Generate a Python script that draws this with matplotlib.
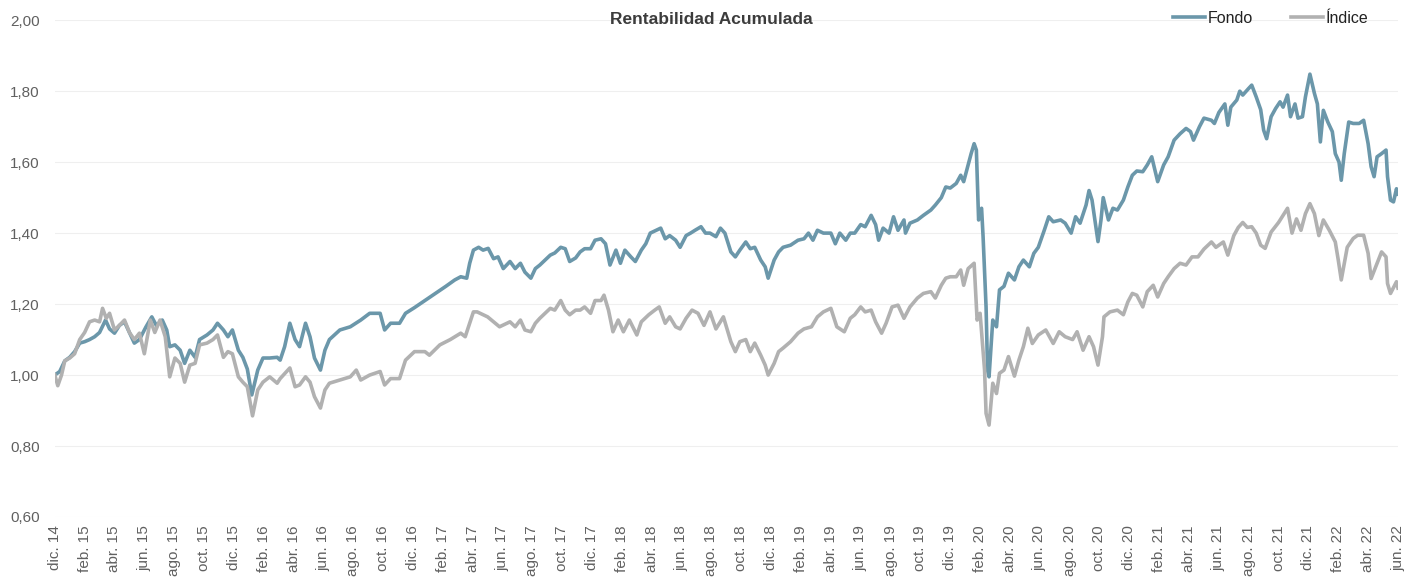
import matplotlib.pyplot as plt

# meses desde dic. 14 (0 = dic. 14, 90 = jun. 22)
fondo_mes = [0.0, 0.33, 0.67, 1.0, 1.33, 1.67, 2.0, 2.33, 2.67, 3.0, 3.4, 3.67, 4.0, 4.33, 4.67,
             5.0, 5.33, 5.67, 6.1, 6.5, 6.8, 7.2, 7.5, 7.7, 8.05, 8.4, 8.7, 9.05, 9.4, 9.7,
             10.2, 10.6, 10.9, 11.3, 11.6, 11.9, 12.3, 12.6, 12.9, 13.2, 13.6, 13.95, 14.4, 14.9,
             15.1, 15.4, 15.75, 16.1, 16.4, 16.8, 17.1, 17.4, 17.8, 18.1, 18.4, 19.1, 19.8, 20.5,
             21.1, 21.8, 22.1, 22.5, 23.1, 23.5, 24.1, 24.8, 25.5, 26.2, 26.8, 27.2, 27.6, 27.8,
             28.05, 28.4, 28.7, 29.04, 29.4, 29.7, 30.05, 30.5, 30.85, 31.2, 31.5, 31.9, 32.2,
             32.5, 32.85, 33.2, 33.5, 33.9, 34.2, 34.5, 34.9, 35.2, 35.5, 35.9, 36.2, 36.6, 36.9,
             37.2, 37.6, 37.9, 38.2, 38.6, 38.9, 39.3, 39.6, 39.9, 40.3, 40.6, 40.9, 41.2, 41.6,
             41.9, 42.3, 42.6, 42.9, 43.3, 43.6, 43.9, 44.3, 44.6, 44.9, 45.3, 45.6, 45.9, 46.3,
             46.6, 46.9, 47.3, 47.6, 47.8, 48.2, 48.5, 48.8, 49.3, 49.8, 50.2, 50.5, 50.8, 51.1,
             51.5, 52.0, 52.3, 52.6, 53.0, 53.3, 53.6, 54.0, 54.3, 54.7, 55.0, 55.2, 55.5, 55.9,
             56.2, 56.5, 56.9, 57.0, 57.3, 57.8, 58.2, 58.7, 59.0, 59.4, 59.7, 60.0, 60.4, 60.7,
             60.9, 61.2, 61.4, 61.6, 61.75, 61.9, 62.1, 62.2, 62.4, 62.5, 62.6, 62.85, 63.1, 63.3,
             63.6, 63.9, 64.3, 64.6, 64.9, 65.3, 65.6, 65.9, 66.3, 66.6, 66.9, 67.4, 67.7, 68.1,
             68.4, 68.7, 69.1, 69.3, 69.5, 69.9, 70.1, 70.25, 70.6, 70.9, 71.2, 71.6, 71.9, 72.2,
             72.5, 72.9, 73.2, 73.5, 73.9, 74.3, 74.6, 75.0, 75.4, 75.8, 76.1, 76.3, 76.7, 77.0,
             77.5, 77.7, 78.0, 78.4, 78.6, 78.8, 79.2, 79.4, 79.6, 80.0, 80.2, 80.5, 80.8, 81.0,
             81.2, 81.5, 81.8, 82.1, 82.3, 82.6, 82.8, 83.1, 83.3, 83.6, 83.8, 84.1, 84.4, 84.6,
             84.8, 85.0, 85.3, 85.6, 85.8, 86.05, 86.2, 86.4, 86.7, 87.0, 87.4, 87.7, 88.0, 88.2,
             88.4, 88.6, 88.9, 89.2, 89.3, 89.5, 89.7, 89.9, 90.0]
fondo = [1.00, 1.01, 1.04, 1.05, 1.066, 1.09, 1.094, 1.10, 1.108, 1.12, 1.155, 1.13, 1.118, 1.14, 1.15,
         1.12, 1.09, 1.10, 1.135, 1.164, 1.14, 1.155, 1.127, 1.08, 1.085, 1.07, 1.033, 1.07, 1.05, 1.10,
         1.113, 1.127, 1.146, 1.127, 1.108, 1.127, 1.07, 1.05, 1.017, 0.944, 1.014, 1.048, 1.048, 1.05,
         1.042, 1.08, 1.146, 1.10, 1.08, 1.146, 1.108, 1.048, 1.014, 1.07, 1.10, 1.127, 1.136, 1.155,
         1.174, 1.174, 1.127, 1.146, 1.146, 1.174, 1.19, 1.21, 1.23, 1.25, 1.268, 1.277, 1.273, 1.315,
         1.352, 1.36, 1.352, 1.357, 1.328, 1.333, 1.30, 1.32, 1.30, 1.315, 1.29, 1.273, 1.30,
         1.31, 1.324, 1.338, 1.344, 1.36, 1.356, 1.32, 1.33, 1.347, 1.356, 1.356, 1.38, 1.384, 1.37,
         1.31, 1.352, 1.315, 1.352, 1.333, 1.32, 1.352, 1.37, 1.40, 1.408, 1.414, 1.384, 1.393, 1.38,
         1.36, 1.393, 1.40, 1.408, 1.418, 1.40, 1.40, 1.39, 1.414, 1.40, 1.347, 1.333, 1.352, 1.375,
         1.356, 1.36, 1.324, 1.305, 1.273, 1.324, 1.347, 1.36, 1.366, 1.38, 1.384, 1.40, 1.38, 1.408,
         1.40, 1.40, 1.37, 1.40, 1.38, 1.40, 1.40, 1.424, 1.418, 1.45, 1.424, 1.38, 1.414, 1.40,
         1.446, 1.408, 1.437, 1.40, 1.428, 1.437, 1.45, 1.465, 1.479, 1.50, 1.53, 1.527, 1.54, 1.563,
         1.545, 1.592, 1.624, 1.652, 1.634, 1.437, 1.47, 1.39, 1.192, 1.014, 0.995, 1.155, 1.136, 1.24,
         1.25, 1.287, 1.268, 1.305, 1.324, 1.305, 1.343, 1.36, 1.408, 1.446, 1.432, 1.437, 1.428, 1.40,
         1.446, 1.428, 1.479, 1.52, 1.493, 1.376, 1.437, 1.50, 1.437, 1.47, 1.465, 1.493, 1.53, 1.563,
         1.575, 1.573, 1.592, 1.615, 1.545, 1.592, 1.615, 1.662, 1.68, 1.695, 1.686, 1.662, 1.70, 1.724,
         1.718, 1.709, 1.74, 1.764, 1.704, 1.755, 1.775, 1.80, 1.789, 1.808, 1.817, 1.784, 1.748, 1.69,
         1.666, 1.728, 1.751, 1.77, 1.755, 1.789, 1.728, 1.764, 1.724, 1.728, 1.784, 1.848, 1.794, 1.764,
         1.657, 1.746, 1.713, 1.686, 1.624, 1.60, 1.549, 1.624, 1.713, 1.709, 1.709, 1.718, 1.652, 1.587,
         1.559, 1.615, 1.624, 1.634, 1.559, 1.493, 1.488, 1.525, 1.51]

indice_mes = [0.0, 0.2, 0.45, 0.67, 1.0, 1.33, 1.67, 2.0, 2.33, 2.67, 3.0, 3.2, 3.45, 3.67, 4.0,
              4.33, 4.67, 5.0, 5.33, 5.67, 6.0, 6.4, 6.7, 7.05, 7.4, 7.7, 8.05, 8.4, 8.7, 9.05,
              9.4, 9.7, 10.2, 10.6, 10.9, 11.3, 11.6, 11.9, 12.3, 12.6, 12.9, 13.25, 13.6, 13.95,
              14.4, 14.9, 15.1, 15.75, 16.1, 16.4, 16.8, 17.1, 17.4, 17.8, 18.1, 18.4, 19.1, 19.8,
              20.2, 20.5, 21.1, 21.8, 22.1, 22.5, 23.1, 23.5, 24.1, 24.8, 25.1, 25.8, 26.5, 27.2,
              27.5, 28.05, 28.3, 29.0, 29.8, 30.5, 30.85, 31.2, 31.5, 31.9, 32.2, 32.5, 32.85, 33.2,
              33.5, 33.9, 34.2, 34.5, 34.9, 35.2, 35.5, 35.9, 36.2, 36.6, 36.8, 37.1, 37.4, 37.75,
              38.1, 38.5, 39.0, 39.3, 39.8, 40.2, 40.5, 40.9, 41.2, 41.6, 41.9, 42.3, 42.7, 43.1,
              43.5, 43.9, 44.3, 44.8, 45.3, 45.6, 45.9, 46.3, 46.6, 46.9, 47.3, 47.6, 47.8, 48.2,
              48.5, 48.8, 49.3, 49.8, 50.2, 50.7, 51.1, 51.5, 52.0, 52.4, 52.9, 53.3, 53.6, 54.0,
              54.3, 54.7, 55.0, 55.4, 55.7, 56.1, 56.5, 56.9, 57.3, 57.8, 58.2, 58.7, 59.0, 59.4,
              59.7, 60.0, 60.4, 60.7, 60.9, 61.2, 61.6, 61.8, 62.0, 62.3, 62.4, 62.6, 62.85, 63.1,
              63.3, 63.6, 63.9, 64.3, 64.6, 64.9, 65.2, 65.5, 65.9, 66.4, 66.9, 67.3, 67.7, 68.2,
              68.5, 68.9, 69.3, 69.6, 69.9, 70.2, 70.3, 70.7, 71.2, 71.6, 71.9, 72.2, 72.5, 72.9,
              73.2, 73.6, 73.9, 74.3, 74.6, 75.0, 75.4, 75.8, 76.2, 76.6, 77.0, 77.5, 77.8, 78.3,
              78.6, 79.0, 79.3, 79.6, 79.9, 80.2, 80.5, 80.8, 81.1, 81.5, 82.0, 82.3, 82.6, 82.9,
              83.2, 83.5, 83.8, 84.1, 84.4, 84.7, 85.0, 85.4, 85.8, 86.0, 86.2, 86.6, 87.0, 87.3,
              87.7, 88.0, 88.2, 88.6, 88.9, 89.2, 89.3, 89.5, 89.9, 90.0]
indice = [1.00, 0.97, 1.00, 1.04, 1.048, 1.06, 1.10, 1.12, 1.15, 1.155, 1.15, 1.188, 1.16, 1.174, 1.127,
          1.14, 1.155, 1.12, 1.10, 1.118, 1.06, 1.155, 1.12, 1.155, 1.108, 0.995, 1.048, 1.033, 0.98, 1.028,
          1.033, 1.085, 1.09, 1.10, 1.113, 1.05, 1.066, 1.06, 0.995, 0.98, 0.967, 0.885, 0.958, 0.98,
          0.995, 0.977, 0.99, 1.02, 0.967, 0.972, 0.995, 0.98, 0.939, 0.907, 0.958, 0.977, 0.986, 0.995,
          1.014, 0.986, 1.0, 1.01, 0.972, 0.99, 0.99, 1.042, 1.066, 1.066, 1.056, 1.085, 1.10, 1.118,
          1.108, 1.178, 1.178, 1.164, 1.136, 1.15, 1.136, 1.155, 1.127, 1.122, 1.146, 1.16, 1.174, 1.188,
          1.183, 1.21, 1.183, 1.17, 1.183, 1.183, 1.192, 1.174, 1.21, 1.21, 1.225, 1.183, 1.122, 1.155,
          1.122, 1.155, 1.113, 1.15, 1.17, 1.183, 1.192, 1.146, 1.164, 1.136, 1.13, 1.16, 1.183, 1.174,
          1.14, 1.178, 1.13, 1.164, 1.094, 1.066, 1.094, 1.10, 1.066, 1.09, 1.056, 1.028, 1.0, 1.033,
          1.066, 1.076, 1.094, 1.118, 1.13, 1.136, 1.164, 1.178, 1.188, 1.136, 1.122, 1.16, 1.17, 1.192,
          1.178, 1.183, 1.15, 1.118, 1.146, 1.192, 1.197, 1.16, 1.192, 1.217, 1.23, 1.235, 1.217, 1.253,
          1.273, 1.277, 1.277, 1.296, 1.253, 1.30, 1.315, 1.155, 1.174, 1.014, 0.892, 0.859, 0.977, 0.948,
          1.005, 1.014, 1.052, 0.997, 1.042, 1.08, 1.132, 1.089, 1.113, 1.127, 1.089, 1.122, 1.108, 1.10,
          1.122, 1.07, 1.108, 1.08, 1.028, 1.108, 1.164, 1.178, 1.183, 1.17, 1.206, 1.23, 1.225, 1.192,
          1.235, 1.253, 1.22, 1.258, 1.277, 1.30, 1.315, 1.31, 1.333, 1.333, 1.355, 1.375, 1.36, 1.375,
          1.338, 1.393, 1.416, 1.43, 1.416, 1.418, 1.40, 1.366, 1.357, 1.403, 1.43, 1.45, 1.47, 1.40,
          1.44, 1.408, 1.455, 1.483, 1.455, 1.393, 1.437, 1.408, 1.375, 1.324, 1.268, 1.36, 1.385, 1.394,
          1.394, 1.343, 1.272, 1.315, 1.347, 1.333, 1.258, 1.23, 1.263, 1.245]

meses = ['dic.', 'feb.', 'abr.', 'jun.', 'ago.', 'oct.']
y_ticks = [0.6, 0.8, 1.0, 1.2, 1.4, 1.6, 1.8, 2.0]
y_labels = ['0,60', '0,80', '1,00', '1,20', '1,40', '1,60', '1,80', '2,00']

# etiquetas bimestrales dic. 14 ... jun. 22
x_ticks = list(range(0, 91, 2))
x_labels = []
for i in x_ticks:
    k = i // 2
    anio = 14 + (k + 5) // 6
    x_labels.append(f"{meses[k % 6]} {anio}")

plt.rcParams['font.family'] = ['Liberation Sans', 'DejaVu Sans']

fig = plt.figure(figsize=(14.05, 5.77), dpi=100)
ax = fig.add_axes([0.039, 0.104, 0.956, 0.861])

azul = '#6b97aa'
gris = '#b1b1b1'
ax.plot(fondo_mes, fondo, color=azul, lw=2.6, label='Fondo', solid_joinstyle='round')
ax.plot(indice_mes, indice, color=gris, lw=2.6, label='Índice', solid_joinstyle='round')

ax.set_xlim(0, 90)
ax.set_ylim(0.6, 2.0)
ax.set_yticks(y_ticks)
ax.set_yticklabels(y_labels)
ax.set_xticks(x_ticks)
ax.set_xticklabels(x_labels, rotation=90, va='top', ha='center')
ax.tick_params(axis='both', length=0, labelsize=11, colors='#606060')
ax.tick_params(axis='x', pad=6)
ax.tick_params(axis='y', pad=11)
for s in ax.spines.values():
    s.set_visible(False)
ax.grid(axis='y', color='#efefef', lw=0.8)
ax.set_axisbelow(True)

fig.text(0.506, 0.967, 'Rentabilidad Acumulada', ha='center', va='center',
         fontsize=12.5, fontweight='bold', color='#3c3c3c')

fig.legend(loc='center right', bbox_to_anchor=(0.984, 0.968), ncol=2, frameon=False,
           fontsize=11.5, handlelength=2.0, handletextpad=0.15, columnspacing=2.4,
           labelcolor='#222222')

fig.savefig('out.png', dpi=100)
